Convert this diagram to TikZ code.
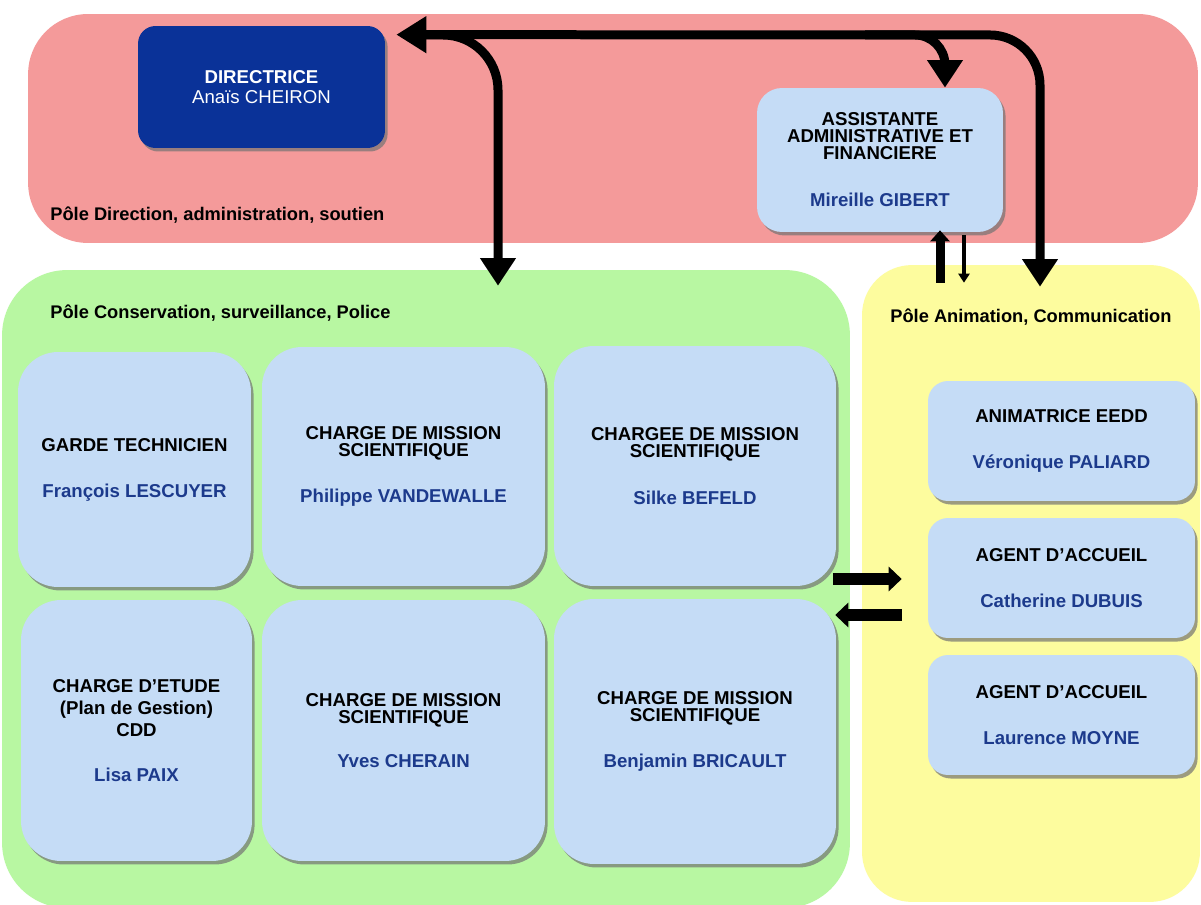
\documentclass[tikz,border=0pt]{standalone}
\usepackage{fontspec}
\setmainfont{Liberation Sans}
\usetikzlibrary{arrows.meta,shadows,calc}

\definecolor{polered}{RGB}{244,154,154}
\definecolor{polegreen}{RGB}{184,247,162}
\definecolor{poleyellow}{RGB}{253,252,158}
\definecolor{boxblue}{RGB}{197,220,246}
\definecolor{dirblue}{RGB}{10,50,152}
\definecolor{nameblue}{RGB}{28,58,140}

\newcommand{\nom}[1]{\textcolor{nameblue}{#1}}

\begin{document}
\begin{tikzpicture}[%
      x=0.02cm, y=-0.02cm,
      pole/.style={inner sep=0pt, rounded corners=1.2cm},
      poste/.style={fill=boxblue, rounded corners=0.8cm, inner sep=0pt, align=center,
        font=\fontsize{10.6}{9.7}\selectfont\bfseries,
        drop shadow={shadow xshift=1.5pt, shadow yshift=-2pt, fill=black!55, opacity=0.7}},
      polelabel/.style={anchor=base west, inner sep=0pt, font=\fontsize{10.4}{12}\selectfont\bfseries},
      flow/.style={line width=0.18cm},
      bigtip/.style={-{Triangle[width=0.68cm,length=0.55cm]}},
      ]
      \useasboundingbox (0,0) rectangle (1201,905);
      \fill[white] (0,0) rectangle (1201,905);

      % les trois poles
      \node[pole, fill=polered, minimum width=23.4cm, minimum height=4.58cm] (direction) at (613,128.5) {};
      \node[pole, fill=polegreen, rounded corners=1.3cm, minimum width=16.96cm, minimum height=12.76cm] (conservation) at (426,589) {};
      \node[pole, fill=poleyellow, rounded corners=1cm, minimum width=6.76cm, minimum height=12.74cm] (animation) at (1031,583.5) {};

      \node[polelabel] (ldirection) at (50,221) {Pôle Direction, administration, soutien};
      \node[polelabel] (lconservation) at (50,319) {Pôle Conservation, surveillance, Police};
      \node[polelabel] (lanimation) at (890,323) {Pôle Animation, Communication};

      % direction
      \node[poste, fill=dirblue, text=white, rounded corners=0.35cm, minimum width=4.94cm, minimum height=2.44cm] (dir) at (261.5,87)
        {DIRECTRICE\\[0.06cm]{\mdseries Anaïs CHEIRON}};
      \node[poste, rounded corners=0.5cm, minimum width=4.92cm, minimum height=2.88cm] (assist) at (880,160)
        {ASSISTANTE\\ADMINISTRATIVE ET\\FINANCIERE\\[0.6cm]\nom{Mireille GIBERT}};

      % conservation
      \node[poste, minimum width=4.66cm, minimum height=4.7cm] (garde) at (134.5,469.5)
        {GARDE TECHNICIEN\\[0.58cm]\nom{François LESCUYER}};
      \node[poste, minimum width=5.66cm, minimum height=4.78cm] (mission1) at (403.5,466.5)
        {CHARGE DE MISSION\\SCIENTIFIQUE\\[0.55cm]\nom{Philippe VANDEWALLE}};
      \node[poste, minimum width=5.64cm, minimum height=4.8cm] (mission2) at (695,466)
        {CHARGEE DE MISSION\\SCIENTIFIQUE\\[0.55cm]\nom{Silke BEFELD}};
      \node[poste, minimum width=4.62cm, minimum height=5.22cm] (etude) at (136.5,730.5)
        {CHARGE D’ETUDE\\[0.1cm](Plan de Gestion)\\[0.1cm]CDD\\[0.55cm]\nom{Lisa PAIX}};
      \node[poste, minimum width=5.66cm, minimum height=5.22cm] (mission3) at (403.5,730.5)
        {CHARGE DE MISSION\\SCIENTIFIQUE\\[0.55cm]\nom{Yves CHERAIN}};
      \node[poste, minimum width=5.64cm, minimum height=5.3cm] (mission4) at (695,731.5)
        {CHARGE DE MISSION\\SCIENTIFIQUE\\[0.55cm]\nom{Benjamin BRICAULT}};

      % animation
      \node[poste, rounded corners=0.4cm, minimum width=5.34cm, minimum height=2.4cm] (eedd) at (1061.5,441)
        {ANIMATRICE EEDD\\[0.58cm]\nom{Véronique PALIARD}};
      \node[poste, rounded corners=0.4cm, minimum width=5.34cm, minimum height=2.4cm] (accueil1) at (1061.5,578)
        {AGENT D’ACCUEIL\\[0.58cm]\nom{Catherine DUBUIS}};
      \node[poste, rounded corners=0.4cm, minimum width=5.34cm, minimum height=2.4cm] (accueil2) at (1061.5,715)
        {AGENT D’ACCUEIL\\[0.58cm]\nom{Laurence MOYNE}};

      % liaisons
      \coordinate (hub) at (1040,35);
      \coordinate (jass) at (945,35);
      \coordinate (jcons) at (498,35);
      \draw[flow, rounded corners=1cm, {Triangle[width=0.7cm,length=0.6cm]}-{Triangle[width=0.68cm,length=0.55cm]}]
        ([xshift=0.22cm,yshift=-0.18cm]dir.north east) -- (hub) -- ($(hub |- animation.north)+(0,22)$);
      \draw[flow, bigtip, rounded corners=0.6cm] ($(jass)+(-80,0)$) -- (jass) -- (jass |- assist.north);
      \draw[flow, bigtip, rounded corners=1.1cm] ($(jcons)+(-90,0)$) -- (jcons) -- ($(jcons |- conservation.north)+(0,16)$);

      \draw[line width=0.18cm, -{Triangle[width=0.38cm,length=0.22cm]}] ($(940,0 |- animation.north)+(0,18)$) -- ($(940,0 |- assist.south)+(0,-2)$);
      \draw[line width=0.08cm, -{Triangle[width=0.22cm,length=0.18cm]}] ($(964,0 |- assist.south)+(0,3)$) -- ($(964,0 |- animation.north)+(0,18)$);

      \draw[line width=0.26cm, -{Triangle[width=0.48cm,length=0.26cm]}] ($(conservation.east |- 0,579)+(-17,0)$) -- ($(animation.west |- 0,579)+(40,0)$);
      \draw[line width=0.26cm, -{Triangle[width=0.48cm,length=0.26cm]}] ($(animation.west |- 0,615)+(40,0)$) -- ($(conservation.east |- 0,615)+(-15,0)$);
\end{tikzpicture}
\end{document}
